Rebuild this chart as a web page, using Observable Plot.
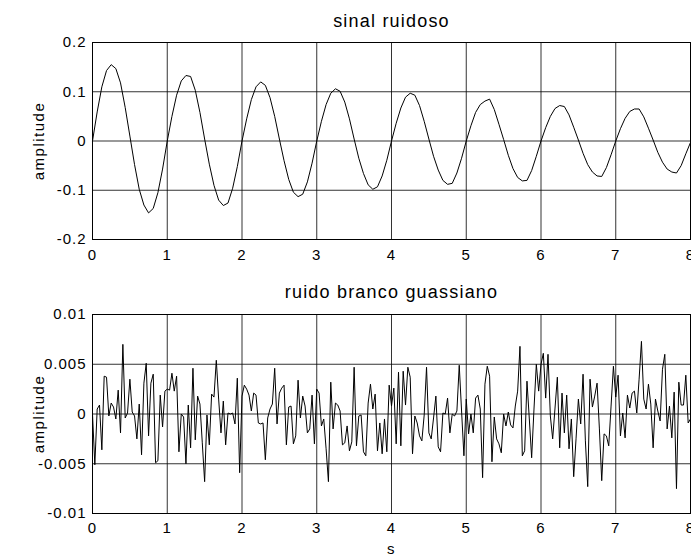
<!DOCTYPE html>
<html><head><meta charset="utf-8">
<script src="https://cdn.jsdelivr.net/npm/d3@7"></script>
<script src="https://cdn.jsdelivr.net/npm/@observablehq/plot@0.6"></script>
<style>
body{margin:0;background:#fff;}
#chart{width:691px;}
#chart svg{display:block;}
</style></head><body><div id="chart"></div>
<script>
const topTitle = "sinal ruidoso";
const bottomTitle = "ruido branco guassiano";
const yLabel = "amplitude";
const xLabel = "s";
const xTicks = [0, 1, 2, 3, 4, 5, 6, 7, 8];
const xTickLabels = ["0", "1", "2", "3", "4", "5", "6", "7", "8"];
const topYTicks = [-0.2, -0.1, 0, 0.1, 0.2];
const topYTickLabels = ["-0.2", "-0.1", "0", "0.1", "0.2"];
const bottomYTicks = [-0.01, -0.005, 0, 0.005, 0.01];
const bottomYTickLabels = ["-0.01", "-0.005", "0", "0.005", "0.01"];

const signalStep = 1 / 16;
const signal = [
  0, 0.059, 0.110, 0.143, 0.155, 0.147, 0.118, 0.068, 0.010, -0.048, -0.098, -0.130, -0.146, -0.137, -0.105, -0.057,
  0, 0.050, 0.093, 0.122, 0.133, 0.131, 0.103, 0.058, 0.004, -0.047, -0.090, -0.120, -0.131, -0.126, -0.096, -0.052,
  0, 0.045, 0.084, 0.110, 0.120, 0.113, 0.088, 0.050, 0.004, -0.040, -0.078, -0.104, -0.113, -0.108, -0.083, -0.045,
  0, 0.040, 0.074, 0.097, 0.106, 0.101, 0.079, 0.045, 0.004, -0.035, -0.066, -0.089, -0.098, -0.093, -0.071, -0.039,
  0, 0.036, 0.067, 0.089, 0.097, 0.093, 0.072, 0.040, 0.004, -0.031, -0.059, -0.080, -0.088, -0.086, -0.065, -0.035,
  0, 0.031, 0.058, 0.074, 0.081, 0.085, 0.064, 0.034, 0.003, -0.029, -0.056, -0.074, -0.081, -0.080, -0.060, -0.031,
  0, 0.027, 0.050, 0.066, 0.072, 0.070, 0.053, 0.028, 0.002, -0.025, -0.048, -0.063, -0.071, -0.072, -0.054, -0.028,
  0, 0.025, 0.046, 0.060, 0.065, 0.065, 0.049, 0.026, 0.002, -0.023, -0.043, -0.057, -0.063, -0.065, -0.050, -0.026,
  -0.003
];

const noiseStep = 1 / 32;
const noise = [
  0, -0.0051, 0.0005, 0.0009, -0.0036, 0.0038, 0.0037, -0.0002, 0.0011, 0.0007,
  -0.0005, 0.0024, -0.0019, 0.007, -0.0004, 0.0001, 0.0035, 0.0002, -0.0002, -0.0025,
  0.001, -0.0041, 0.0031, 0.0051, -0.0022, 0.0031, 0.004, -0.0049, -0.0047, 0.0019,
  -0.0013, 0.0023, 0.0025, 0.0024, 0.0041, 0.0023, 0.0038, -0.0038, 0, -0.0003,
  -0.005, 0.0009, -0.0034, 0.0046, -0.0026, 0.0018, 0.001, -0.0029, -0.0068, -0.0001,
  -0.0031, 0.002, 0.0017, 0.0054, 0.0015, -0.0019, 0.0013, -0.0031, 0.0001, 0,
  0.0001, -0.001, 0.0036, -0.0059, 0.0018, 0.0029, 0.0025, 0.0019, 0.0003, 0.0021,
  0.0019, -0.0009, -0.001, -0.0009, -0.0046, -0.0004, 0.0005, 0.001, 0.0046, -0.001,
  0.0021, 0.0026, 0.0029, -0.0031, 0.0007, 0.0008, -0.003, -0.0022, 0.0034, -0.0004,
  0.0018, 0.0008, -0.0019, -0.0015, 0.0019, -0.003, 0.0025, 0.0021, -0.0012, -0.0005,
  -0.0035, -0.0068, 0.0032, -0.0015, 0.0011, 0.0009, 0.0003, -0.0031, -0.0029, -0.0012,
  -0.0037, -0.0028, 0.0047, -0.0032, -0.0002, -0.0001, -0.0038, -0.0042, 0.0011, 0.003,
  0.0005, 0.002, -0.0037, -0.0009, -0.004, -0.0005, -0.0038, 0.0029, 0.0008, 0.0026,
  -0.003, 0.0042, -0.0032, 0.0043, 0.0009, 0.0047, 0.0037, -0.004, -0.0002, -0.0009,
  -0.0022, -0.0027, -0.0001, 0.0047, -0.0019, -0.0025, -0.0004, 0.0018, -0.0033, -0.0038,
  0.0001, 0, 0.0016, -0.0019, 0, -0.0002, 0.0003, 0.0049, 0.0003, -0.0042,
  0.0015, -0.002, 0, -0.0019, 0.0016, 0.0019, 0.0005, -0.0064, 0.003, 0.0048,
  0.0038, -0.0048, -0.0003, -0.0025, -0.003, -0.0039, 0, -0.0012, 0.0002, -0.0011,
  -0.0014, 0.0008, 0.0023, 0.0068, -0.0042, -0.0037, 0.0033, -0.0005, -0.0044, 0.0005,
  0.005, 0.0023, 0.005, 0.0061, 0.0016, 0.006, -0.0002, -0.0025, 0.0006, 0.0037,
  -0.0034, 0.0021, -0.0019, 0.0019, -0.0035, -0.0005, -0.0063, -0.0025, 0.0015, -0.001,
  0.004, -0.0027, -0.0073, 0.0035, 0.0007, 0.0018, 0.0031, -0.0015, -0.0067, -0.002,
  -0.0022, -0.0032, 0.0008, 0.0048, 0.0017, 0.0039, -0.0022, 0.0001, -0.0024, 0.0019,
  0.0006, 0.0021, 0.0023, 0.0001, 0.0035, 0.0073, 0.0015, 0.0005, 0.003, 0.001,
  -0.0034, 0.0015, 0.0003, -0.0007, 0.0045, 0.006, -0.0015, 0.0008, -0.0024, 0.0022,
  -0.0075, 0.0032, 0.0009, 0.0009, 0.0039, -0.0009, -0.0005
];

const FONT = "'Liberation Sans', Arial, Helvetica, sans-serif";

function panel(opts) {
  const data = opts.values.map((v, i) => ({t: i * opts.step, v}));
  const marks = [
    Plot.gridX(xTicks, {stroke: "#000", strokeOpacity: 0.8}),
    Plot.gridY(opts.yTicks, {stroke: "#000", strokeOpacity: 0.8}),
    Plot.line(data, {x: "t", y: "v", stroke: "#000", strokeWidth: 1}),
    Plot.frame({stroke: "#000", strokeWidth: 1}),
    Plot.axisX(xTicks, {anchor: "bottom", tickSize: 0, tickPadding: opts.xPad, fontSize: 15,
      tickFormat: d => xTickLabels[xTicks.indexOf(d)], label: null}),
    Plot.axisY(opts.yTicks, {anchor: "left", tickSize: 0, tickPadding: 6, fontSize: 15,
      tickFormat: d => opts.yLabels[opts.yTicks.indexOf(d)], label: null}),
    Plot.text([opts.title], {frameAnchor: "top", textAnchor: "middle", dy: opts.titleDy, fontSize: 18, fill: "#000"}),
    Plot.text([yLabel], {frameAnchor: "left", textAnchor: "middle", rotate: -90, dx: -53, fontSize: 15, fill: "#000"})
  ];
  if (opts.xLabel) marks.push(Plot.text([xLabel], {frameAnchor: "bottom", textAnchor: "middle", dy: 40, fontSize: 15, fill: "#000"}));
  const svg = Plot.plot({
    width: 691, height: opts.height,
    marginLeft: 92, marginRight: 1, marginTop: opts.mt, marginBottom: opts.mb,
    style: {fontFamily: FONT, color: "#000", background: "#fff", overflow: "visible"},
    x: {domain: [0, 8], axis: null},
    y: {domain: opts.yDomain, axis: null},
    marks
  });
  const s = d3.select(svg);
  s.selectAll('g[aria-label="x-axis tick label"] text, g[aria-label="y-axis tick label"] text').style("letter-spacing", "1px");
  s.selectAll("text").filter(function () { return this.textContent === opts.title; }).style("letter-spacing", "1.2px");
  s.selectAll("text").filter(function () { return this.textContent === yLabel || this.textContent === xLabel; }).style("letter-spacing", "1.5px");
  return svg;
}

const chart = document.getElementById("chart");
chart.appendChild(panel({values: signal, step: signalStep, yDomain: [-0.2, 0.2], yTicks: topYTicks, yLabels: topYTickLabels,
  title: topTitle, height: 270, mt: 42, mb: 31, xPad: 10, titleDy: -28}));
chart.appendChild(panel({values: noise, step: noiseStep, yDomain: [-0.01, 0.01], yTicks: bottomYTicks, yLabels: bottomYTickLabels,
  title: bottomTitle, height: 287, mt: 44, mb: 44, xPad: 9, titleDy: -29, xLabel: true}));
</script></body></html>
